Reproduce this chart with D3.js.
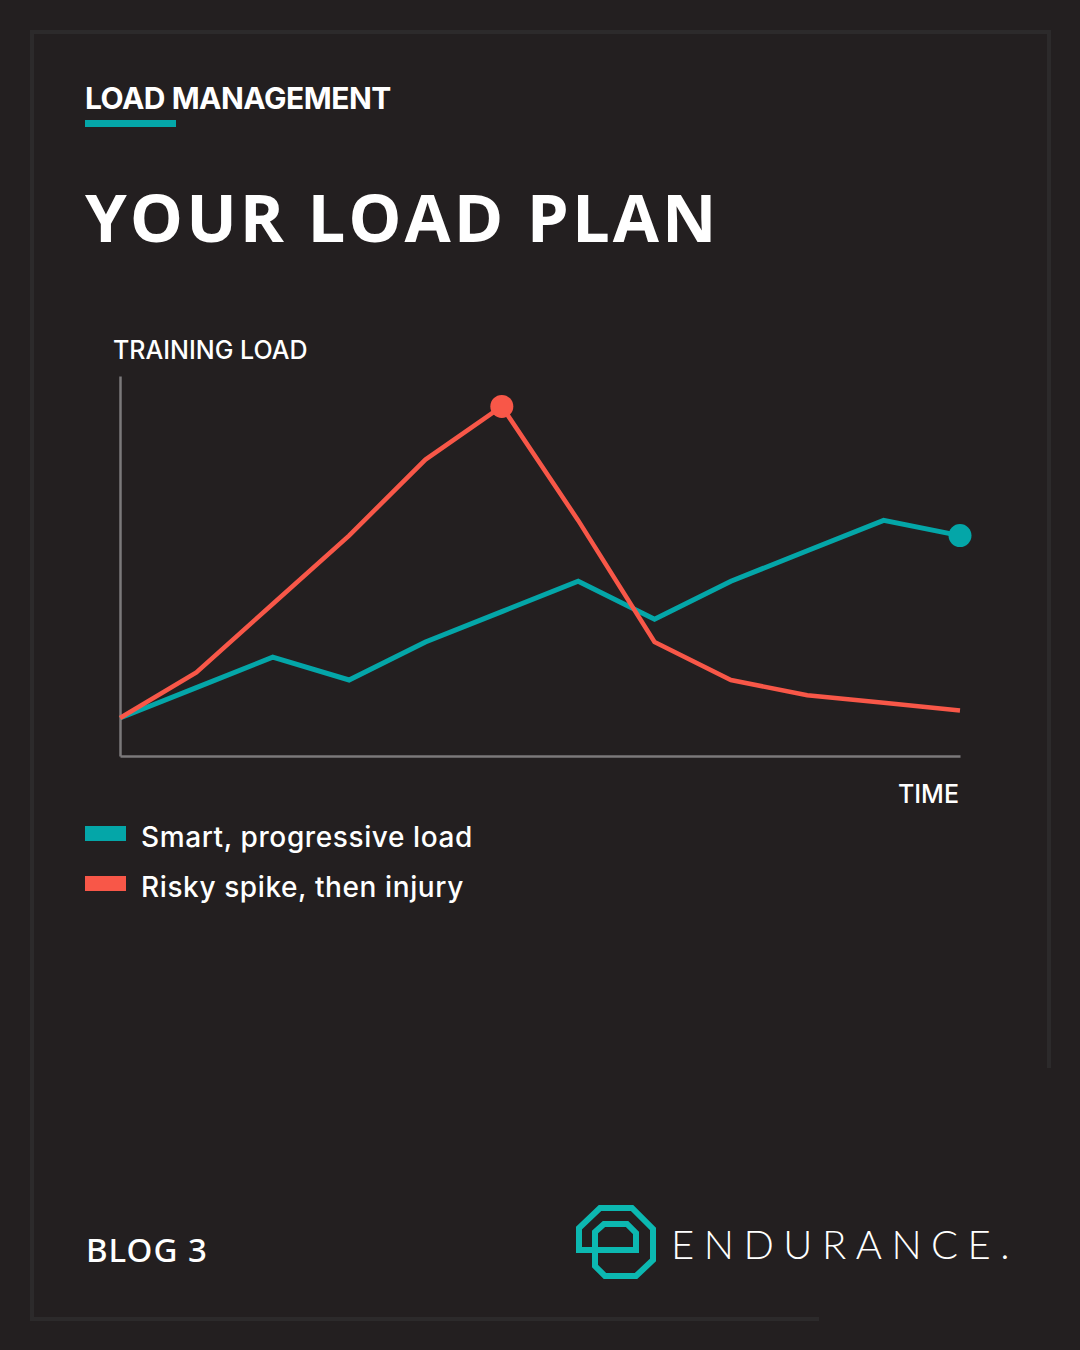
<!DOCTYPE html>
<html>
<head>
<meta charset="utf-8">
<script src="https://cdn.jsdelivr.net/npm/d3@7"></script>
<style>
  html, body { margin: 0; padding: 0; background: #231f20; }
  svg { display: block; }
</style>
</head>
<body>
<svg id="loadChart" width="1080" height="1350"></svg>
<script>
// Load plan - chart data
const weeks = [1, 2, 3, 4, 5, 6, 7, 8, 9, 10, 11, 12];
const smartLoad = [10, 18, 26, 20, 30, 38, 46, 36, 46, 54, 62, 58];
const riskyLoad = [10, 22, 40, 58, 78, 92, 62, 30, 20, 16, 14, 12];
const seriesNames = ['Smart, progressive load', 'Risky spike, then injury'];
const seriesColors = ['#04a6a8', '#f85748'];

function renderLoadChart() {
  const svg = d3.select('#loadChart');
  const bg = '#231f20';
  const frame = '#2c2a2b';

  svg.append('rect').attr('width', 1080).attr('height', 1350).attr('fill', bg);

  // Marco (abierto abajo a la derecha)
  const border = svg.append('g').attr('fill', frame);
  border.append('rect').attr('x', 30).attr('y', 30).attr('width', 1021).attr('height', 4);
  border.append('rect').attr('x', 30).attr('y', 30).attr('width', 4).attr('height', 1291);
  border.append('rect').attr('x', 30).attr('y', 1317).attr('width', 789).attr('height', 4);
  border.append('rect').attr('x', 1047).attr('y', 30).attr('width', 4).attr('height', 1038);

  // Cabecera
  svg.append('text')
    .attr('x', 85).attr('y', 109)
    .style('font-family', 'Inter, "Noto Sans", sans-serif')
    .style('font-weight', 700)
    .style('font-size', '30px')
    .style('letter-spacing', '-0.5px')
    .style('fill', '#ffffff')
    .text('LOAD MANAGEMENT');

  svg.append('rect')
    .attr('x', 85).attr('y', 120).attr('width', 91).attr('height', 7)
    .attr('fill', seriesColors[0]);

  svg.append('text')
    .attr('x', 85).attr('y', 242)
    .style('font-family', '"Open Sans", "Noto Sans", sans-serif')
    .style('font-weight', 700)
    .style('font-size', '67px')
    .style('letter-spacing', '3px')
    .style('fill', '#ffffff')
    .text('YOUR LOAD PLAN');

  // Escalas
  const x = d3.scaleLinear()
    .domain([d3.min(weeks), d3.max(weeks)])
    .range([120, 960]);

  const y = d3.scaleLinear()
    .domain([0, 100])
    .range([756, 376]);

  // Ejes (solo la linea)
  const axisColor = '#7b797a';
  svg.append('g')
    .attr('transform', 'translate(120,0)')
    .call(d3.axisLeft(y).ticks(0).tickSizeOuter(0))
    .call(g => g.select('.domain').attr('stroke', axisColor).attr('stroke-width', 2.5));

  svg.append('g')
    .attr('transform', 'translate(0,756)')
    .call(d3.axisBottom(x).ticks(0).tickSizeOuter(0))
    .call(g => g.select('.domain').attr('stroke', axisColor).attr('stroke-width', 2.5));

  svg.append('text')
    .attr('x', 113).attr('y', 359)
    .style('font-family', 'Inter, "Noto Sans", sans-serif')
    .style('font-weight', 500)
    .style('font-size', '25px')
    .style('fill', '#ffffff')
    .text('TRAINING LOAD');

  svg.append('text')
    .attr('x', 959).attr('y', 803)
    .attr('text-anchor', 'end')
    .style('font-family', 'Inter, "Noto Sans", sans-serif')
    .style('font-weight', 500)
    .style('font-size', '25px')
    .style('fill', '#ffffff')
    .text('TIME');

  // Lineas
  const line = d3.line()
    .x((d, i) => x(weeks[i]))
    .y(d => y(d));

  svg.append('path')
    .datum(smartLoad)
    .attr('d', line)
    .attr('fill', 'none')
    .attr('stroke', seriesColors[0])
    .attr('stroke-width', 5)
    .attr('stroke-linejoin', 'miter');

  svg.append('path')
    .datum(riskyLoad)
    .attr('d', line)
    .attr('fill', 'none')
    .attr('stroke', seriesColors[1])
    .attr('stroke-width', 4.5)
    .attr('stroke-linejoin', 'miter');

  // Puntos destacados: pico de riesgo y final progresivo
  const peakIdx = riskyLoad.indexOf(d3.max(riskyLoad));
  const lastIdx = smartLoad.length - 1;
  svg.append('circle')
    .attr('cx', x(weeks[peakIdx])).attr('cy', y(riskyLoad[peakIdx]))
    .attr('r', 11.5).attr('fill', seriesColors[1]);
  svg.append('circle')
    .attr('cx', x(weeks[lastIdx])).attr('cy', y(smartLoad[lastIdx]))
    .attr('r', 11.5).attr('fill', seriesColors[0]);

  // Leyenda
  const legend = svg.selectAll('.legend-item')
    .data(seriesNames)
    .enter()
    .append('g')
    .attr('class', 'legend-item')
    .attr('transform', (d, i) => `translate(85,${826 + i * 50})`);

  legend.append('rect')
    .attr('width', 41).attr('height', 15)
    .attr('fill', (d, i) => seriesColors[i]);

  legend.append('text')
    .attr('x', 56).attr('y', 21)
    .style('font-family', 'Inter, "Noto Sans", sans-serif')
    .style('font-weight', 500)
    .style('font-size', '28px')
    .style('letter-spacing', '0.6px')
    .style('fill', '#ffffff')
    .text(d => d);

  // Pie
  svg.append('text')
    .attr('x', 86).attr('y', 1262)
    .style('font-family', '"Noto Sans", Lato, sans-serif')
    .style('font-weight', 500)
    .style('font-size', '33px')
    .style('letter-spacing', '1px')
    .style('fill', '#ffffff')
    .text('BLOG 3');

  // Logo
  const logo = [
    [595, 1232], [604, 1224], [627, 1224], [636, 1233], [636, 1250],
    [579, 1250], [579, 1228], [600, 1208], [632, 1208], [653, 1229],
    [653, 1260], [636, 1276], [605, 1276], [595, 1266]
  ];
  svg.append('path')
    .attr('d', d3.line()(logo) + 'Z')
    .attr('fill', 'none')
    .attr('stroke', '#0cb8b1')
    .attr('stroke-width', 6)
    .attr('stroke-linejoin', 'miter');

  svg.append('text')
    .attr('x', 671).attr('y', 1259)
    .style('font-family', 'Lato, Inter, sans-serif')
    .style('font-weight', 300)
    .style('font-size', '40px')
    .style('letter-spacing', '9.5px')
    .style('fill', '#ffffff')
    .text('ENDURANCE.');
}

document.addEventListener('DOMContentLoaded', renderLoadChart);
</script>
</body>
</html>
